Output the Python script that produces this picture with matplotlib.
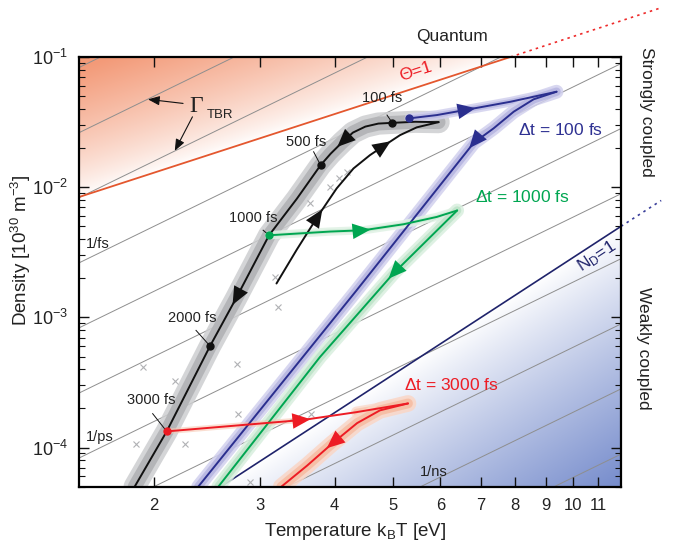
import numpy as np
import matplotlib
matplotlib.use("Agg")
import matplotlib.pyplot as plt
from matplotlib.ticker import FixedLocator, NullLocator, LogLocator, LogFormatterMathtext, FixedFormatter

plt.rcParams['font.family'] = ['Liberation Sans', 'DejaVu Sans']
plt.rcParams['mathtext.fontset'] = 'custom'
plt.rcParams['mathtext.rm'] = 'Liberation Sans'
plt.rcParams['mathtext.it'] = 'Liberation Sans:italic'
plt.rcParams['mathtext.sf'] = 'Liberation Sans'
plt.rcParams['mathtext.bf'] = 'Liberation Sans:bold'

# ---------------- data ----------------
T_LIM = (1.5, 12.0)
N_LIM = (5e-5, 0.1)
x_ticks = [2, 3, 4, 5, 6, 7, 8, 9, 10, 11]
x_tick_labels = ['2', '3', '4', '5', '6', '7', '8', '9', '10', '11']

# Gamma_TBR iso-rate lines: density at T=1.5 eV and at T=12 eV
tbr_T_ends = [1.5, 12.0]
tbr_n_lo = [8.3e-7, 2.62e-6, 8.3e-6, 2.62e-5, 8.3e-5, 2.62e-4, 8.3e-4, 2.62e-3, 8.3e-3, 2.62e-2, 8.3e-2]
tbr_n_hi = [8.9e-5, 2.82e-4, 8.9e-4, 2.82e-3, 8.9e-3, 2.82e-2, 8.9e-2, 0.282, 0.89, 2.82, 8.9]

# Theta = 1 (degeneracy) line
theta_T = [1.5, 7.85]
theta_n = [8.4e-3, 0.1]
theta_dot_T = [7.85, 14.0]
theta_dot_n = [0.1, 0.239]

# N_D = 1 line
nd_T = [2.585, 12.0]
nd_n = [5e-5, 5e-3]
nd_dot_T = [12.0, 14.0]
nd_dot_n = [5e-3, 7.9e-3]

# black trajectory (no probe): heating and cooling branches
black_heat_T = [3.20, 3.46, 3.76, 4.03, 4.30, 4.58, 4.85, 5.14, 5.48, 5.96]
black_heat_n = [1.82e-3, 3.32e-3, 6.09e-3, 9.77e-3, 1.393e-2, 1.762e-2, 2.104e-2, 2.51e-2, 2.88e-2, 3.16e-2]
black_cool_T = [5.96, 5.45, 4.99, 4.73, 4.50, 4.29, 4.12, 3.94, 3.79, 3.46, 3.11, 2.738, 2.48, 2.10, 1.857]
black_cool_n = [3.16e-2, 3.18e-2, 3.12e-2, 3.08e-2, 2.92e-2, 2.626e-2, 2.219e-2, 1.81e-2, 1.476e-2,
                8.15e-3, 4.27e-3, 1.39e-3, 6.02e-4, 1.33e-4, 5e-5]

# Delta t = 100 fs (blue)
blue_heat_T = [5.33, 5.92, 6.69, 7.85, 9.37]
blue_heat_n = [3.38e-2, 3.58e-2, 3.96e-2, 4.53e-2, 5.41e-2]
blue_cool_T = [9.37, 8.58, 7.95, 7.36, 6.82, 4.35, 2.37]
blue_cool_n = [5.41e-2, 4.73e-2, 3.80e-2, 2.83e-2, 2.19e-2, 1.61e-3, 5e-5]

# Delta t = 1000 fs (green)
green_heat_T = [3.11, 3.93, 4.47, 5.21, 5.92, 6.40]
green_heat_n = [4.27e-3, 4.56e-3, 4.67e-3, 5.19e-3, 5.91e-3, 6.62e-3]
green_cool_T = [6.40, 5.01, 3.78, 2.56]
green_cool_n = [6.62e-3, 2.17e-3, 4.95e-4, 5e-5]

# Delta t = 3000 fs (red)
red_heat_T = [2.10, 3.55, 4.35, 5.30]
red_heat_n = [1.33e-4, 1.63e-4, 1.87e-4, 2.18e-4]
red_cool_T = [5.30, 4.76, 4.36, 3.96, 3.60, 3.26]
red_cool_n = [2.18e-4, 1.93e-4, 1.54e-4, 1.07e-4, 7.27e-5, 5e-5]

# time-stamp points on the black trajectory
stamp_labels = ['100 fs', '500 fs', '1000 fs', '2000 fs', '3000 fs']
stamp_T = [4.99, 3.79, 3.11, 2.48, 2.10]
stamp_n = [3.12e-2, 1.476e-2, 4.27e-3, 6.02e-4, 1.33e-4]
stamp_label_T = [4.79, 3.59, 2.93, 2.32, 1.98]
stamp_label_n = [4.84e-2, 2.23e-2, 5.83e-3, 9.88e-4, 2.30e-4]
stamp_lead_T = [4.89, 3.69, 3.04, 2.35, 1.99]
stamp_lead_n = [3.58e-2, 1.87e-2, 4.67e-3, 7.94e-4, 1.82e-4]
stamp_colors = ['#111111', '#111111', '#00a651', '#111111', '#ed1c24']

# scattered outlier simulation samples (grey crosses)
out_T = [3.18, 3.22, 2.75, 1.92, 2.17, 1.87, 2.25, 2.89, 3.66, 2.76, 4.06, 4.19, 3.93, 3.64]
out_n = [2.04e-3, 1.2e-3, 4.4e-4, 4.15e-4, 3.27e-4, 1.07e-4, 1.07e-4, 5.4e-5, 1.82e-4, 1.82e-4,
         1.166e-2, 1.312e-2, 1.005e-2, 7.5e-3]

# ---------------- figure ----------------
W, H = 674, 545
fig = plt.figure(figsize=(W / 100, H / 100), dpi=100)
ax = fig.add_axes([79 / W, 1 - 486.7 / H, 542 / W, 429.7 / H])
ax.set_xscale('log')
ax.set_yscale('log')
ax.set_xlim(*T_LIM)
ax.set_ylim(*N_LIM)

# background gradients (computed in axes fraction space)
nu, nv = 400, 400
u = np.linspace(0, 1, nu)
v = np.linspace(1, 0, nv)
U, V = np.meshgrid(u, v)
lx0, lx1 = np.log10(T_LIM)
ly0, ly1 = np.log10(N_LIM)
LT = lx0 + U * (lx1 - lx0)
LN = ly0 + V * (ly1 - ly0)

def logline(Tpts, npts, lt):
    a = (np.log10(npts[1]) - np.log10(npts[0])) / (np.log10(Tpts[1]) - np.log10(Tpts[0]))
    return np.log10(npts[0]) + a * (lt - np.log10(Tpts[0]))

d_top = LN - logline(theta_T, theta_n, LT)
a_top = np.clip(d_top / 1.0, 0, 1) ** 0.8
d_bot = logline(nd_T, nd_n, LT) - LN
a_bot = np.clip(d_bot / 2.0, 0, 1) ** 0.9
orange = np.array([243, 154, 120]) / 255
blue = np.array([118, 140, 204]) / 255
img = np.ones((nv, nu, 3))
img = img * (1 - a_top[..., None]) + orange * a_top[..., None]
img = img * (1 - a_bot[..., None]) + blue * a_bot[..., None]
ax.imshow(img, extent=(0, 1, 0, 1), transform=ax.transAxes, aspect='auto', zorder=0,
          interpolation='bilinear')

# Gamma_TBR lines
for n0, n1 in zip(tbr_n_lo, tbr_n_hi):
    ax.plot(tbr_T_ends, [n0, n1], color='#8e8e8e', lw=0.7, zorder=1)

# Theta=1 and N_D=1
ax.plot(theta_T, theta_n, color='#e4572e', lw=1.3, zorder=2)
ax.plot(theta_dot_T, theta_dot_n, color='#ee2a2a', lw=1.2, ls=(0, (1.5, 2.5)), clip_on=False, zorder=2)
ax.plot(nd_T, nd_n, color='#1f236b', lw=1.2, zorder=2)
ax.plot(nd_dot_T, nd_dot_n, color='#3a3f9a', lw=1.2, ls=(0, (1.5, 2.5)), clip_on=False, zorder=2)

# sample clouds as layered bands (outer faint, inner denser)
band = dict(solid_capstyle='round', solid_joinstyle='round', zorder=3)
def cloud(Tc, nc, col_out, col_in, w_out, w_in):
    ax.plot(Tc, nc, color=col_out, lw=w_out, alpha=0.85, **band)
    ax.plot(Tc, nc, color=col_in, lw=w_in, alpha=0.95, **band)

cloud(black_cool_T, black_cool_n, '#cdced0', '#b3b4b7', 16, 10)
cloud(blue_heat_T, blue_heat_n, '#d2d1ee', '#bdbce4', 7, 4)
cloud(blue_cool_T, blue_cool_n, '#d2d1ee', '#b9b8e2', 10, 6)
cloud(green_heat_T, green_heat_n, '#e0f2e5', '#cfebd7', 6, 3)
cloud(green_cool_T, green_cool_n, '#d9efdf', '#c0e4ca', 10, 6)
cloud(red_heat_T[2:], red_heat_n[2:], '#fadbcd', '#f7c8b3', 8, 5)
ax.plot(red_heat_T[:2], red_heat_n[:2], color='#f7c8b3', lw=4, alpha=0.6, **band)
cloud(red_cool_T, red_cool_n, '#fad6c6', '#f6bea5', 12, 7)

ax.plot(out_T, out_n, ls='none', marker='x', ms=5, mew=0.8, color='#b0b1b4', zorder=3)

# trajectories
curves = [
    (black_heat_T, black_heat_n, '#111111', [2, 6]),
    (black_cool_T, black_cool_n, '#111111', [6, 11]),
    (blue_heat_T, blue_heat_n, '#2b2f8f', [2]),
    (blue_cool_T, blue_cool_n, '#2b2f8f', [4]),
    (green_heat_T, green_heat_n, '#00a651', [2]),
    (green_cool_T, green_cool_n, '#00a651', [1]),
    (red_heat_T, red_heat_n, '#ed1c24', [1]),
    (red_cool_T, red_cool_n, '#ed1c24', [3]),
]
for Tc, nc, col, arrows in curves:
    ax.plot(Tc, nc, color=col, lw=1.4, zorder=5, solid_capstyle='round', solid_joinstyle='round')

fig.canvas.draw()
tr = ax.transData
inv = tr.inverted()
for Tc, nc, col, arrows in curves:
    P = tr.transform(np.column_stack([Tc, nc]))
    for i in arrows:
        d = P[i + 1] - P[i - 1]
        d = d / np.hypot(*d)
        tip = P[i] + 7 * d
        tail = P[i] - 12 * d
        tipd = inv.transform(tip)
        taild = inv.transform(tail)
        ax.annotate('', xy=tipd, xytext=taild, xycoords='data',
                    arrowprops=dict(arrowstyle='-|>,head_length=0.65,head_width=0.28',
                                    mutation_scale=20, color=col, lw=0,
                                    shrinkA=0, shrinkB=0), zorder=6)

# blue start dot
ax.plot(blue_heat_T[0], blue_heat_n[0], 'o', color='#2b2f8f', ms=5, zorder=7)

# time stamps
for lab, T0, n0, Tl, nl, Tle, nle, c in zip(stamp_labels, stamp_T, stamp_n, stamp_label_T,
                                            stamp_label_n, stamp_lead_T, stamp_lead_n, stamp_colors):
    ax.plot(T0, n0, 'o', color=c, ms=5, zorder=7)
    ax.plot([Tle, T0], [nle, n0], color='#111111', lw=0.7, zorder=6)
    ax.text(Tl, nl, lab, fontsize=10.5, ha='center', va='center', color='#222222', zorder=8)

# labels inside
ax.text(9.51, 2.75e-2, r'$\Delta$t = 100 fs', color='#2e3192', fontsize=12.5, ha='center', va='center')
ax.text(8.21, 8.42e-3, r'$\Delta$t = 1000 fs', color='#00a651', fontsize=12.5, ha='center', va='center')
ax.text(6.25, 3.0e-4, r'$\Delta$t = 3000 fs', color='#ed1c24', fontsize=12.5, ha='center', va='center')
ax.text(5.45, 7.7e-2, 'Θ=1', color='#ed1c24', fontsize=12.5, ha='center', va='center', rotation=18)
ax.text(10.95, 2.91e-3, r'N$_\mathrm{D}$=1', color='#1f236b', fontsize=12.5, ha='center', va='center', rotation=33)
ax.text(1.538, 3.69e-3, '1/fs', fontsize=10.5, ha='left', va='center', color='#222222')
ax.text(1.538, 1.2e-4, '1/ps', fontsize=10.5, ha='left', va='center', color='#222222')
ax.text(5.54, 6.54e-5, '1/ns', fontsize=10.5, ha='left', va='center', color='#222222')
ax.text(2.35, 4.15e-2, 'Γ', family=['Liberation Serif', 'DejaVu Serif'], fontsize=17,
        ha='center', va='center', color='#222222')
ax.text(2.45, 3.6e-2, 'TBR', fontsize=9.5, ha='left', va='center', color='#222222')
ax.annotate('', xy=(1.954, 4.73e-2), xytext=(2.236, 4.4e-2),
            arrowprops=dict(arrowstyle='-|>,head_length=0.5,head_width=0.2', mutation_scale=14,
                            color='#111111', lw=0.8, shrinkA=0, shrinkB=0))
ax.annotate('', xy=(2.166, 1.9e-2), xytext=(2.318, 3.47e-2),
            arrowprops=dict(arrowstyle='-|>,head_length=0.5,head_width=0.2', mutation_scale=14,
                            color='#111111', lw=0.8, shrinkA=0, shrinkB=0))

# outside labels
fig.text(451.7 / W, 1 - 36 / H, 'Quantum', fontsize=12.5, ha='center', va='center', color='#222222')
fig.text(646.7 / W, 1 - 111.7 / H, 'Strongly coupled', fontsize=12.5, ha='center', va='center',
         rotation=-90, color='#222222')
fig.text(643 / W, 1 - 348 / H, 'Weakly coupled', fontsize=12.5, ha='center', va='center',
         rotation=-90, color='#222222')

# axes styling
ax.xaxis.set_major_locator(FixedLocator(x_ticks))
ax.xaxis.set_major_formatter(FixedFormatter(x_tick_labels))
ax.xaxis.set_minor_locator(NullLocator())
ax.yaxis.set_major_locator(LogLocator(base=10, numticks=10))
ax.yaxis.set_major_formatter(LogFormatterMathtext())
ax.yaxis.set_minor_locator(LogLocator(base=10, subs=np.arange(2, 10), numticks=20))
ax.tick_params(which='both', direction='in', top=True, right=True, color='#111111')
ax.tick_params(which='major', length=7, width=1.0)
ax.tick_params(which='minor', length=4, width=0.8)
ax.tick_params(axis='x', labelsize=12, pad=8, labelcolor='#222222')
ax.tick_params(axis='y', labelsize=13, pad=8, labelcolor='#222222')
for s in ax.spines.values():
    s.set_linewidth(1.6)
    s.set_zorder(10)

ax.set_xlabel(r'Temperature k$_\mathrm{B}$T [eV]', fontsize=13.5, color='#222222')
ax.set_ylabel(r'Density [10$^{30}$ m$^{-3}$]', fontsize=13.5, color='#222222')
ax.xaxis.set_label_coords(0.509, -0.08)
ax.yaxis.set_label_coords(-0.085, 0.55)

fig.savefig('out.png', dpi=100)
